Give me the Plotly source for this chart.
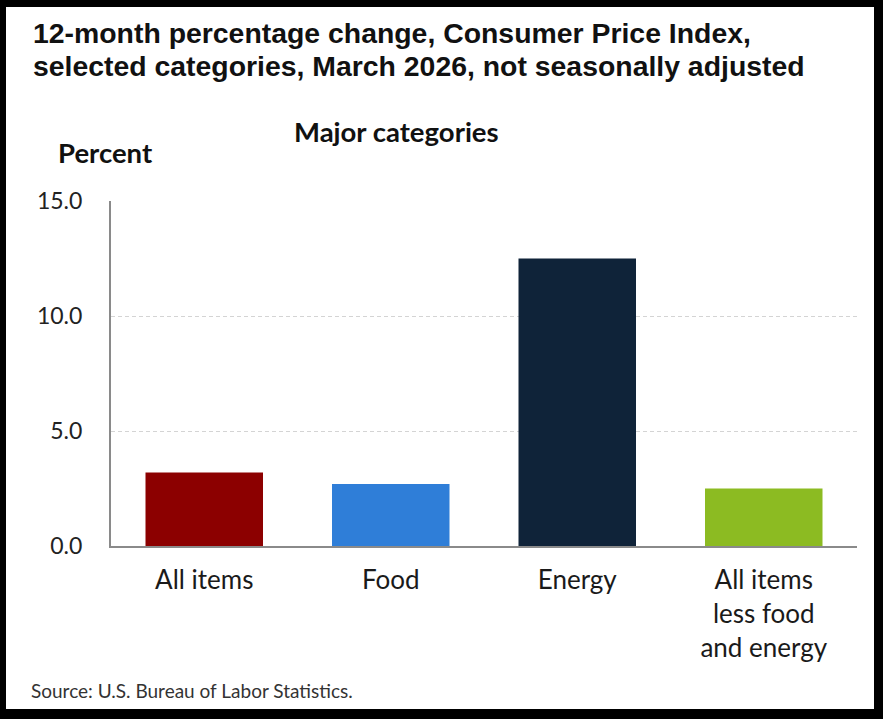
import plotly.graph_objects as go

# 12-month percent change, CPI, March 2026 (not seasonally adjusted)
categories = ["All items", "Food", "Energy", "All items<br>less food<br>and energy"]
pct_change = [3.2, 2.7, 12.5, 2.5]
bar_colors = ["#8c0000", "#2f7ed8", "#0f2339", "#8cbb22"]
y_ticks = [0, 5, 10, 15]

W, H = 883, 719
L, R, T, B = 111, 26, 201, 173
PW, PH = W - L - R, H - T - B


def px_x(x):
    return (x - L) / PW


def px_y(y):
    return (H - B - y) / PH


fig = go.Figure(
    go.Bar(
        x=categories,
        y=pct_change,
        marker=dict(color=bar_colors, line=dict(width=0)),
        width=0.63,
        hoverinfo="x+y",
    )
)

ann_common = dict(xref="paper", yref="paper", showarrow=False)
title_font = dict(family="Liberation Sans", size=28.4, color="#111111")

annotations = [
    dict(text="<b>12-month percentage change, Consumer Price Index,</b>",
         x=px_x(31), y=px_y(33), xanchor="left", yanchor="middle", font=title_font, **ann_common),
    dict(text="<b>selected categories, March 2026, not seasonally adjusted</b>",
         x=px_x(31), y=px_y(66), xanchor="left", yanchor="middle", font=title_font, **ann_common),
    dict(text="<b>Major categories</b>",
         x=px_x(396), y=px_y(131), xanchor="center", yanchor="middle",
         font=dict(family="Lato", size=27.5, color="#111111"), **ann_common),
    dict(text="<b>Percent</b>",
         x=px_x(105), y=px_y(152), xanchor="center", yanchor="middle",
         font=dict(family="Lato", size=27.5, color="#111111"), **ann_common),
    dict(text="Source: U.S. Bureau of Labor Statistics.",
         x=px_x(29), y=px_y(690), xanchor="left", yanchor="middle",
         font=dict(family="Lato", size=19, color="#333333"), **ann_common),
]

# black frame with white interior
shapes = [
    dict(type="rect", xref="paper", yref="paper", layer="below",
         x0=px_x(6), x1=px_x(874), y0=px_y(709), y1=px_y(7),
         fillcolor="white", line=dict(width=0)),
]

fig.update_layout(
    width=W, height=H,
    margin=dict(l=L, r=R, t=T, b=B, pad=0),
    paper_bgcolor="black",
    plot_bgcolor="white",
    showlegend=False,
    annotations=annotations,
    shapes=shapes,
    bargap=0.37,
    xaxis=dict(
        showgrid=False,
        showline=True, linecolor="#8a8a8a", linewidth=2,
        ticks="outside", ticklen=10, tickcolor="rgba(0,0,0,0)",
        tickfont=dict(family="Lato", size=26, color="#1a1a1a"),
        fixedrange=True,
    ),
    yaxis=dict(
        range=[0, 15],
        tickvals=y_ticks,
        tickformat=".1f",
        showgrid=True, gridcolor="#d4d4d4", gridwidth=1, griddash="4px,3px",
        zeroline=False,
        showline=True, linecolor="#8a8a8a", linewidth=2,
        ticks="outside", ticklen=22, tickcolor="rgba(0,0,0,0)",
        tickfont=dict(family="Lato", size=23, color="#222222"),
        fixedrange=True,
    ),
)

fig.write_html("out.html")
